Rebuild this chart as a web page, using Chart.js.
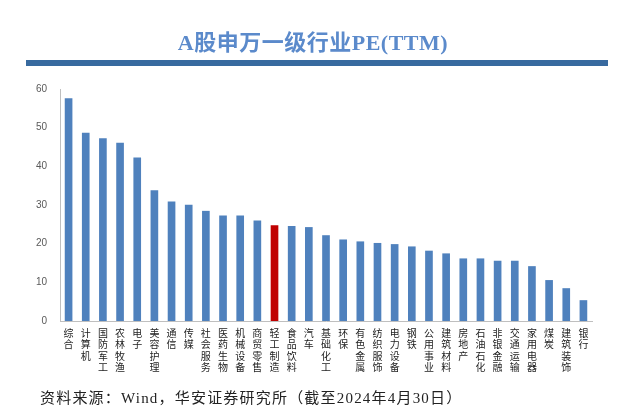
<!DOCTYPE html>
<html>
<head>
<meta charset="utf-8">
<script src="https://cdn.jsdelivr.net/npm/chart.js@4"></script>
<style>
    body { margin: 0; background: #fff; }
    #wrap { position: relative; width: 621px; height: 414px; overflow: hidden; }
    #title {
        position: absolute; left: 0; top: 24px; width: 626px; text-align: center;
        font: bold 22px "Liberation Serif", "Noto Sans CJK SC", serif;
        color: #5b8acb; letter-spacing: 0.5px;
    }
    #rule { position: absolute; left: 26px; top: 60px; width: 582px; height: 6px; background: #386a9f; }
    #source {
        position: absolute; left: 40px; top: 386px;
        font: 15px "Liberation Serif", "Noto Sans CJK SC", serif;
        color: #222; letter-spacing: 1.2px;
    }
    canvas { position: absolute; left: 0; top: 0; }
</style>
</head>
<body>
<div id="wrap">
    <canvas id="peChart" width="621" height="414"></canvas>
    <div id="title">A股申万一级行业PE(TTM)</div>
    <div id="rule"></div>
    <div id="source">资料来源：Wind，华安证券研究所（截至2024年4月30日）</div>
</div>
<script>
const industries = ['综合', '计算机', '国防军工', '农林牧渔', '电子', '美容护理', '通信', '传媒', '社会服务', '医药生物',
    '机械设备', '商贸零售', '轻工制造', '食品饮料', '汽车', '基础化工', '环保', '有色金属', '纺织服饰', '电力设备',
    '钢铁', '公用事业', '建筑材料', '房地产', '石油石化', '非银金融', '交通运输', '家用电器', '煤炭', '建筑装饰', '银行'];
const peTTM = [57.5, 48.6, 47.2, 46.0, 42.2, 33.7, 30.8, 30.0, 28.4, 27.2,
    27.2, 25.9, 24.7, 24.5, 24.2, 22.1, 21.0, 20.5, 20.1, 19.8,
    19.2, 18.1, 17.4, 16.1, 16.1, 15.5, 15.5, 14.1, 10.5, 8.4, 5.3];
const yTicks = [0, 10, 20, 30, 40, 50, 60];
const highlight = '轻工制造';

// stack every label vertically, one character per line
const stackedLabels = industries.map((name) => name.split(''));
const barColors = industries.map((name) => (name === highlight ? '#c00000' : '#4f81bd'));

new Chart(document.getElementById('peChart'), {
    type: 'bar',
    data: {
        labels: stackedLabels,
        datasets: [
            {
                data: peTTM,
                backgroundColor: barColors,
                borderWidth: 0,
                barThickness: 7,
            },
        ],
    },
    options: {
        responsive: false,
        animation: false,
        layout: {
            padding: { top: 89, right: 29, bottom: 33, left: 0 },
        },
        plugins: {
            legend: { display: false },
            tooltip: { enabled: false },
        },
        scales: {
            x: {
                grid: { display: false, drawTicks: false },
                border: { display: true, color: '#bfbfbf' },
                ticks: {
                    autoSkip: false,
                    maxRotation: 0,
                    minRotation: 0,
                    padding: 6,
                    color: '#222',
                    font: { family: '"Noto Sans CJK SC"', size: 10, lineHeight: 1.15 },
                },
                afterFit: (scale) => { scale.height = 60; },
            },
            y: {
                min: 0,
                max: 60,
                grid: { display: false, drawTicks: false },
                border: { display: true, color: '#bfbfbf' },
                afterBuildTicks: (scale) => { scale.ticks = yTicks.map((v) => ({ value: v })); },
                ticks: {
                    padding: 13,
                    color: '#595959',
                    font: { family: '"Liberation Sans"', size: 10 },
                },
                afterFit: (scale) => { scale.width = 60; },
            },
        },
    },
});
</script>
</body>
</html>
